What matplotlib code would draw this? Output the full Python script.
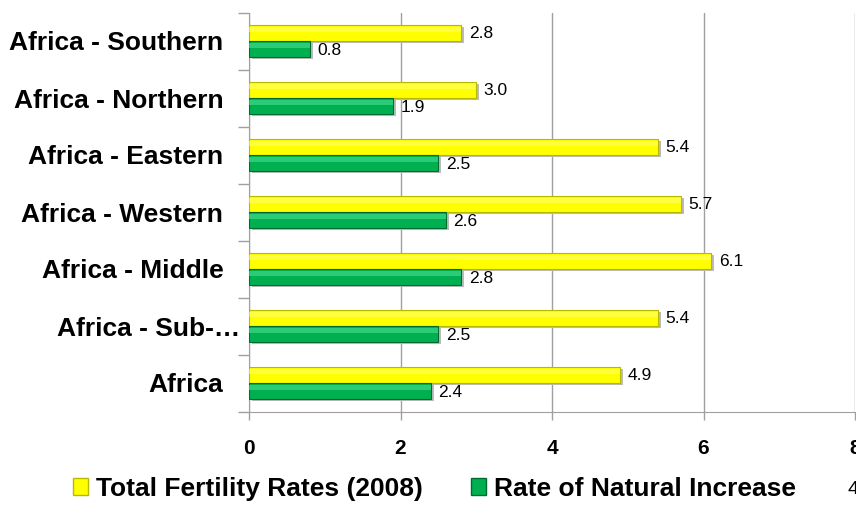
import matplotlib
matplotlib.use("Agg")
import matplotlib.pyplot as plt
from matplotlib.patches import Patch
from matplotlib.transforms import ScaledTranslation
import numpy as np

plt.rcParams['font.family'] = ['Liberation Sans', 'DejaVu Sans']

categories = ["Africa", "Africa - Sub-…", "Africa - Middle", "Africa - Western",
              "Africa - Eastern", "Africa - Northern", "Africa - Southern"]
fertility = [4.9, 5.4, 6.1, 5.7, 5.4, 3.0, 2.8]
natural_increase = [2.4, 2.5, 2.8, 2.6, 2.5, 1.9, 0.8]
x_ticks = [0, 2, 4, 6, 8]
series_names = ["Total Fertility Rates (2008)", "Rate of Natural Increase"]

W, H = 856, 505
fig = plt.figure(figsize=(W / 100, H / 100), dpi=100)
ax = fig.add_axes([249 / W, 1 - 411.5 / H, (855 - 249) / W, (411.5 - 12.5) / H])

y = np.arange(len(categories))
bh = 0.28
yel, yel_edge, yel_hi = "#FFFF00", "#B8B800", "#FFFF80"
grn, grn_edge, grn_hi = "#00B050", "#006B30", "#40D887"

# shadows
ax.barh(y + bh / 2 - 0.03, fertility, height=bh, left=0.04, color="#BBBBBB", zorder=2, linewidth=0)
ax.barh(y - bh / 2 - 0.03, natural_increase, height=bh, left=0.04, color="#BBBBBB", zorder=2, linewidth=0)
# main bars
ax.barh(y + bh / 2, fertility, height=bh, color=yel, edgecolor=yel_edge, linewidth=0.8, zorder=3)
ax.barh(y - bh / 2, natural_increase, height=bh, color=grn, edgecolor=grn_edge, linewidth=0.8, zorder=3)
# highlights
ax.barh(y + bh / 2 + bh * 0.22, fertility, height=bh * 0.3, color=yel_hi, linewidth=0, zorder=4, alpha=0.5)
ax.barh(y - bh / 2 + bh * 0.22, natural_increase, height=bh * 0.3, color=grn_hi, linewidth=0, zorder=4, alpha=0.7)

for yi, v in zip(y, fertility):
    ax.text(v + 0.1, yi + bh / 2, f"{v:.1f}", va="center", ha="left", fontsize=12.5, zorder=5)
for yi, v in zip(y, natural_increase):
    ax.text(v + 0.1, yi - bh / 2 - 0.02, f"{v:.1f}", va="center", ha="left", fontsize=12.5, zorder=5)

ax.set_xlim(0, 8)
ax.set_ylim(-0.5, len(categories) - 0.5)
ax.set_xticks(x_ticks)
ax.set_xticklabels([str(t) for t in x_ticks], fontsize=15, fontweight="bold")
ax.set_yticks(y)
ax.set_yticklabels(categories, fontsize=19, fontweight="bold")
ax.set_yticks(np.arange(-0.5, len(categories), 1), minor=True)
ax.tick_params(axis="y", which="major", length=0, pad=18.5)
ax.tick_params(axis="y", which="minor", length=8, color="#A0A0A0", width=1)
ax.tick_params(axis="x", which="major", length=6, color="#A0A0A0", width=1, pad=14)
ax.grid(axis="x", color="#A0A0A0", linewidth=1, zorder=0)
ax.set_axisbelow(True)
for s in ["top", "right"]:
    ax.spines[s].set_visible(False)
ax.spines["left"].set_color("#A0A0A0")
ax.spines["bottom"].set_color("#A0A0A0")

# the truncated label overhangs to the right in the reference
lab = ax.get_yticklabels()[1]
lab.set_transform(lab.get_transform() + ScaledTranslation(17 / 100, 0, fig.dpi_scale_trans))

handles = [Patch(facecolor=yel, edgecolor=yel_edge), Patch(facecolor=grn, edgecolor=grn_edge)]
fig.legend(handles, series_names, loc="center left", bbox_to_anchor=(73 / W, 1 - 489 / H),
           ncol=2, frameon=False, prop={"size": 19, "weight": "bold"}, borderpad=0,
           borderaxespad=0, handlelength=0.58, handleheight=0.58, handletextpad=0.3,
           columnspacing=1.8)
fig.text(847 / W, 1 - 490 / H, "4", fontsize=14, va="center", ha="left")

fig.savefig("out.png", dpi=100)
